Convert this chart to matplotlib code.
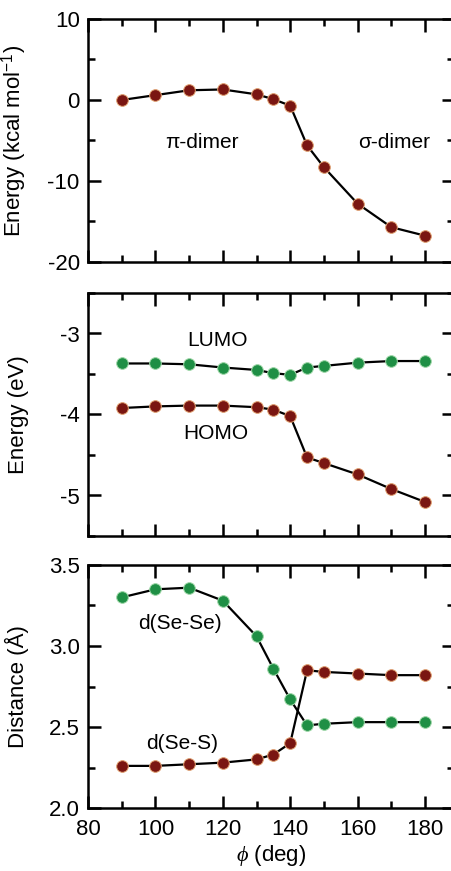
import matplotlib.pyplot as plt
from matplotlib.ticker import MultipleLocator

plt.rcParams['font.family'] = ['Liberation Sans', 'DejaVu Sans']
plt.rcParams['mathtext.fontset'] = 'custom'
plt.rcParams['mathtext.rm'] = 'Liberation Sans'
plt.rcParams['mathtext.it'] = 'Liberation Serif:italic'
plt.rcParams['axes.unicode_minus'] = False

phi = [90, 100, 110, 120, 130, 135, 140, 145, 150, 160, 170, 180]
energy_kcal = [0.0, 0.6, 1.2, 1.3, 0.7, 0.1, -0.7, -5.6, -8.3, -12.8, -15.7, -16.75]
lumo = [-3.37, -3.37, -3.38, -3.42, -3.45, -3.49, -3.51, -3.42, -3.40, -3.36, -3.34, -3.34]
homo = [-3.92, -3.90, -3.89, -3.89, -3.91, -3.94, -4.02, -4.53, -4.60, -4.74, -4.92, -5.08]
d_sese = [3.30, 3.35, 3.36, 3.28, 3.06, 2.86, 2.67, 2.51, 2.52, 2.53, 2.53, 2.53]
d_ses = [2.26, 2.26, 2.27, 2.28, 2.30, 2.33, 2.40, 2.85, 2.84, 2.83, 2.82, 2.82]

red = '#7a1612'
green = '#1f8f45'
edge_red = '#e0a070'
edge_green = '#9fd8a8'

fig = plt.figure(figsize=(4.52, 8.71), dpi=100)
W = 366 / 452
H = 243 / 871
ax1 = fig.add_axes([88 / 452, 1 - 262 / 871, W, H])
ax2 = fig.add_axes([88 / 452, 1 - 536 / 871, W, H])
ax3 = fig.add_axes([88 / 452, 1 - 808 / 871, W, H])


def series(ax, y, color, edge):
    ax.plot(phi, y, color='black', lw=1.6, zorder=2)
    ax.plot(phi, y, 'o', ms=8.4, mfc=color, mec=edge, mew=0.7, zorder=3)


series(ax1, energy_kcal, red, edge_red)
series(ax2, lumo, green, edge_green)
series(ax2, homo, red, edge_red)
series(ax3, d_sese, green, edge_green)
series(ax3, d_ses, red, edge_red)

fs = 16
afs = 15

ax1.set_ylim(-20, 10)
ax1.yaxis.set_major_locator(MultipleLocator(10))
ax1.yaxis.set_minor_locator(MultipleLocator(5))
ax1.set_ylabel('Energy (kcal mol$^{-1}$)', fontsize=fs)
ax1.text(113.8, -5.2, '\u03c0-dimer', fontsize=afs, ha='center', va='center')
ax1.text(170.8, -5.3, '\u03c3-dimer', fontsize=afs, ha='center', va='center')

ax2.set_ylim(-5.5, -2.5)
ax2.yaxis.set_major_locator(MultipleLocator(1))
ax2.yaxis.set_minor_locator(MultipleLocator(0.5))
ax2.set_ylabel('Energy (eV)', fontsize=fs)
ax2.text(118.3, -3.09, 'LUMO', fontsize=afs, ha='center', va='center')
ax2.text(118.0, -4.23, 'HOMO', fontsize=afs, ha='center', va='center')

ax3.set_ylim(2.0, 3.5)
ax3.yaxis.set_major_locator(MultipleLocator(0.5))
ax3.yaxis.set_minor_locator(MultipleLocator(0.25))
ax3.yaxis.set_major_formatter(plt.FormatStrFormatter('%.1f'))
ax3.set_ylabel('Distance (\u00c5)', fontsize=fs)
ax3.text(107.3, 3.14, 'd(Se-Se)', fontsize=afs, ha='center', va='center')
ax3.text(108.0, 2.40, 'd(Se-S)', fontsize=afs, ha='center', va='center')
ax3.set_xlabel('$\\mathit{\\phi}$ (deg)', fontsize=fs, labelpad=2)

for ax in (ax1, ax2, ax3):
    ax.set_xlim(80, 188.6)
    ax.xaxis.set_major_locator(MultipleLocator(20))
    ax.xaxis.set_minor_locator(MultipleLocator(10))
    ax.tick_params(which='both', direction='in', top=True, right=True,
                   width=1.8, labelsize=fs, pad=6)
    ax.tick_params(axis='x', which='both', pad=8)
    ax.tick_params(which='major', length=9)
    ax.tick_params(which='minor', length=5)
    for s in ax.spines.values():
        s.set_linewidth(1.8)
    ax.yaxis.set_label_coords(-0.16, 0.5)
    if ax is not ax3:
        ax.tick_params(labelbottom=False)

fig.savefig('out.png', dpi=100)
